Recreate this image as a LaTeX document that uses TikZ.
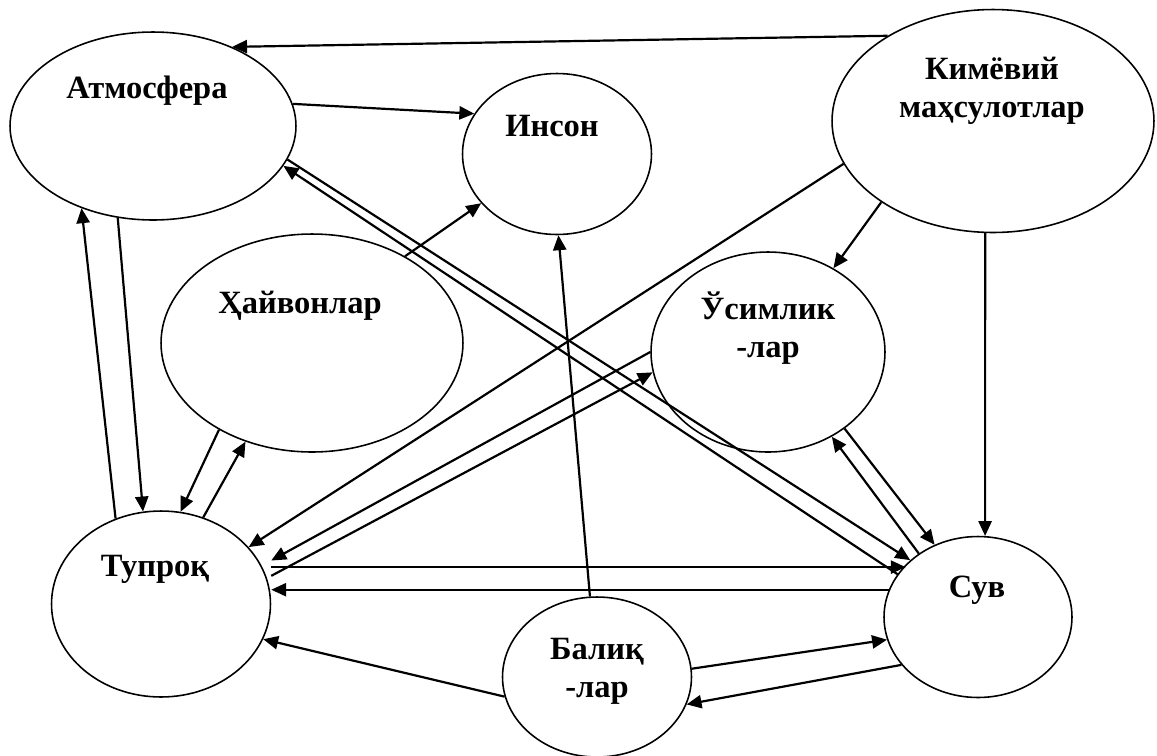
\documentclass[tikz,border=0pt]{standalone}
\usepackage{fontspec}
\setmainfont{Liberation Serif}
\usetikzlibrary{shapes.geometric,arrows.meta}

\tikzset{
  blob/.style={draw, ellipse, line width=0.9pt, inner sep=0pt},
  lbl/.style={font=\fontsize{18.5}{21.5}\selectfont\bfseries, align=center, anchor=base},
  arr/.style={-{Triangle[length=8.5pt,width=7.5pt]}, line width=1.25pt},
}

\begin{document}
\begin{tikzpicture}[x=0.02cm, y=-0.02cm]
    \useasboundingbox (0,0) rectangle (1157,755);

    % Ellipses
    \node[blob, minimum width=5.72cm, minimum height=3.76cm] (atm) at (153,126) {};
    \node[blob, minimum width=3.78cm, minimum height=3.22cm] (inson) at (557,154) {};
    \node[blob, minimum width=6.44cm, minimum height=4.46cm] (kim) at (993,121) {};
    \node[blob, minimum width=6.04cm, minimum height=4.36cm] (hay) at (312,343) {};
    \node[blob, minimum width=4.68cm, minimum height=4.00cm] (usim) at (768,352) {};
    \node[blob, minimum width=4.38cm, minimum height=3.72cm] (tup) at (161,604) {};
    \node[blob, minimum width=3.76cm, minimum height=3.22cm] (suv) at (978,617) {};
    \node[blob, minimum width=3.78cm, minimum height=3.20cm] (bal) at (597,677) {};

    % Labels (base = last line)
    \node[lbl] (atmtxt) at (147,98) {Атмосфера};
    \node[lbl] (insontxt) at (552,136) {Инсон};
    \node[lbl] (kimtxt) at (992,117) {Кимёвий\\маҳсулотлар};
    \node[lbl] (haytxt) at (300,313) {Ҳайвонлар};
    \node[lbl] (usimtxt) at (768,357) {Ўсимлик\\-лар};
    \node[lbl] (tuptxt) at (155,576) {Тупроқ};
    \node[lbl] (suvtxt) at (977,597) {Сув};
    \node[lbl] (baltxt) at (597,697) {Балиқ\\-лар};

    % Into Inson
    \draw[arr] (kim.141) -- (atm.45);
    \draw[arr] (atm.9) -- (inson.154);
    \draw[arr] (hay.43) -- (inson.213);
    \draw[arr] (bal.95) -- (inson.271);

    % From chemical products
    \draw[arr] (kim.216) -- (usim.52);
    \draw[arr] (kim.266) -- (suv.85);
    \draw[arr] (kim.196) -- (tup.33);

    % Soil and atmosphere, soil and animals
    \draw[arr] (atm.249) -- (tup.101);
    \draw[arr] (tup.118) -- (atm.229);
    \draw[arr] (hay.223) -- (tup.78);
    \draw[arr] (tup.64) -- (hay.236);

    % Soil and plants
    \draw[arr] (usim.180) -- (tup.24 -| tup.east);
    \draw[arr] (tup.15 -| tup.east) -- (usim.190);

    % Soil and water
    \draw[arr] (tup.20 -| tup.east) -- (tup.20 -| suv.144);
    \draw[arr] (suv.163) -- (suv.163 -| tup.east);

    % Fish
    \draw[arr] (bal.192) -- (tup.341);
    \draw[arr] (bal.5) -- (suv.194);
    \draw[arr] (suv.212) -- (bal.343);

    % Water and atmosphere, water and plants
    \draw[arr] (atm.346) -- (suv.140);
    \draw[arr] (suv.152) -- (atm.343);
    \draw[arr] (usim.315) -- (suv.121);
    \draw[arr] (suv.133) -- (usim.307);

\end{tikzpicture}
\end{document}
